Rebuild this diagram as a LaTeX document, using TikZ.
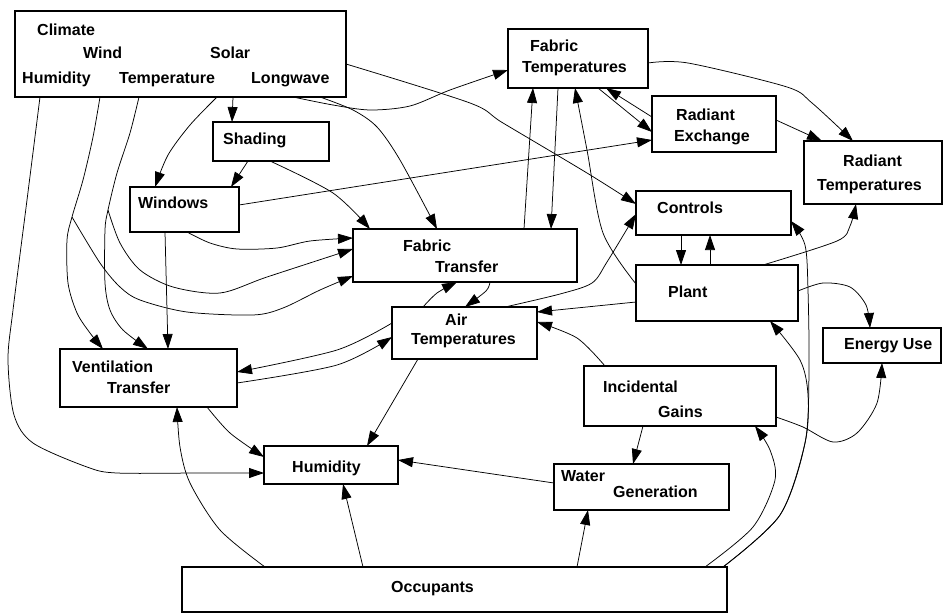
\documentclass[tikz,border=0pt]{standalone}
\usepackage{fontspec}
\setmainfont{Liberation Sans}
\usetikzlibrary{arrows.meta}
\newcommand\mybox[5]{\node[box, minimum width={(#4-(#2))*1pt}, minimum height={(#5-(#3))*1pt}] (#1) at ({(#2+#4)/2},{(#3+#5)/2}) {};}
\begin{document}
\begin{tikzpicture}[x=1pt,y=-1pt,
  box/.style={draw, line width=1.3pt, inner sep=0pt, outer sep=0pt},
  lbl/.style={anchor=base west, inner sep=0pt, font=\fontsize{16}{19}\selectfont\bfseries},
  arr/.style={line width=0.75pt, -{Triangle[length=15pt,width=10pt]}}]
\useasboundingbox[fill=white] (0,0) rectangle (947,613);
% boxes
\mybox{clim}{15}{11}{346}{97}
\mybox{ftemp}{508}{29}{648}{88}
\mybox{radex}{652}{96}{776}{152}
\mybox{radt}{804}{141}{942}{204}
\mybox{ctrl}{636}{191}{791}{235}
\mybox{plant}{636}{265}{798}{321}
\mybox{shad}{213}{122}{329}{161}
\mybox{win}{130}{187}{239}{232}
\mybox{ftr}{353}{229}{577}{282}
\mybox{air}{392}{307}{537}{359}
\mybox{energy}{823}{328}{941}{363}
\mybox{vent}{60}{349}{237}{407}
\mybox{incg}{584}{366}{776}{426}
\mybox{hum}{264}{446}{398}{484}
\mybox{water}{554}{464}{729}{510}
\mybox{occ}{182}{567}{727}{612}
% labels
\node[lbl] (t1) at (37,35) {Climate};
\node[lbl] (t2) at (83,58) {Wind};
\node[lbl] (t3) at (210,58) {Solar};
\node[lbl] (t4) at (22,83) {Humidity};
\node[lbl] (t5) at (119,83) {Temperature};
\node[lbl] (t6) at (251,83) {Longwave};
\node[lbl] (t7) at (530,51) {Fabric};
\node[lbl] (t8) at (522,72) {Temperatures};
\node[lbl] (t9) at (676,120) {Radiant};
\node[lbl] (t10) at (674,141) {Exchange};
\node[lbl] (t11) at (843,166) {Radiant};
\node[lbl] (t12) at (817,190) {Temperatures};
\node[lbl] (t13) at (657,213) {Controls};
\node[lbl] (t14) at (668,297) {Plant};
\node[lbl] (t15) at (223,144) {Shading};
\node[lbl] (t16) at (138,208) {Windows};
\node[lbl] (t17) at (403,251) {Fabric};
\node[lbl] (t18) at (435,272) {Transfer};
\node[lbl] (t19) at (445,325) {Air};
\node[lbl] (t20) at (411,344) {Temperatures};
\node[lbl] (t21) at (844,349) {Energy Use};
\node[lbl] (t22) at (72,372) {Ventilation};
\node[lbl] (t23) at (107,393) {Transfer};
\node[lbl] (t24) at (603,392) {Incidental};
\node[lbl] (t25) at (658,417) {Gains};
\node[lbl] (t26) at (292,472) {Humidity};
\node[lbl] (t27) at (561,481) {Water};
\node[lbl] (t28) at (613,497) {Generation};
\node[lbl] (t29) at (391,592) {Occupants};
% branch points
\coordinate (brA) at (72,217);
\coordinate (brB) at (108,210);
\coordinate (brO) at (805,443);
% connectors from climate
\draw[arr] plot[smooth] coordinates {(clim.south -| 40,0) (27,200) (13,310) (8,360) (14,415) (33,443) (87,467) (117,473) (200,473) (hum.west |- 0,473)};
\draw[arr] plot[smooth] coordinates {(clim.south -| 100,0) (93,137) (83,180) (brA) (67,240) (68,283) (77,313) (90,333) (vent.north -| 103,0)};
\draw[arr] plot[smooth] coordinates {(brA) (100,263) (120,287) (140,300) (187,312) (253,315) (283,308) (320,290) (ftr.west |- 0,276)};
\draw[arr] plot[smooth] coordinates {(clim.south -| 139,0) (130,133) (117,173) (brB) (105,230) (105,283) (110,310) (123,330) (vent.north -| 148,0)};
\draw[arr] plot[smooth] coordinates {(brB) (120,243) (140,270) (173,287) (220,293) (267,277) (ftr.west |- 0,249)};
\draw[arr] plot[smooth] coordinates {(clim.south -| 217,0) (190,125) (168,155) (win.north -| 155,0)};
\draw[arr] (clim.south -| 233,0) -- (shad.north -| 232,0);
\draw[arr] plot[smooth] coordinates {(clim.south -| 293,0) (333,105) (370,110) (410,106) (450,90) (ftemp.west |- 0,70)};
\draw[arr] plot[smooth] coordinates {(clim.south -| 320,0) (353,110) (377,127) (400,160) (ftr.north -| 437,0)};
\draw[arr] plot[smooth] coordinates {(clim.east |- 0,64) (470,103) (503,123) (587,173) (ctrl.west |- 0,204)};
% shading, windows
\draw[arr] (shad.south -| 248,0) -- (win.north -| 231,0);
\draw[arr] plot[smooth] coordinates {(shad.south -| 270,0) (333,193) (ftr.north -| 370,0)};
\draw[arr] (win.south -| 165,0) -- (vent.north -| 168,0);
\draw[arr] plot[smooth] coordinates {(win.south -| 187,0) (210,243) (237,249) (277,248) (310,241) (ftr.west |- 0,238)};
\draw[arr] (win.east |- 0,205) -- (radex.west |- 0,140);
% fabric temperatures
\draw[arr] (ftr.north -| 524,0) -- (ftemp.south -| 533,0);
\draw[arr] (ftemp.south -| 558,0) -- (ftr.north -| 551,0);
\draw[arr] plot[smooth] coordinates {(plant.west |- 0,284) (603,233) (587,150) (ftemp.south -| 575,0)};
\draw[arr] (ftemp.south -| 598,0) -- (radex.west |- 0,132);
\draw[arr] (radex.west |- 0,117) -- (ftemp.south -| 606,0);
\draw[arr] plot[smooth] coordinates {(ftemp.east |- 0,63) (688,63) (787,87) (812,103) (radt.north -| 853,0)};
\draw[arr] (radex.east |- 0,120) -- (radt.north -| 822,0);
% controls, plant
\draw[arr] (ctrl.south -| 681,0) -- (plant.north -| 681,0);
\draw[arr] (plant.north -| 710,0) -- (ctrl.south -| 710,0);
\draw[arr] plot[smooth] coordinates {(occ.north -| 723,0) (780,515) (brO) (809,372) (808,290) (805,245) (ctrl.east |- 0,221)};
\draw[arr] plot[smooth] coordinates {(occ.north -| 723,0) (780,515) (brO) (808,395) (800,360) (plant.south -| 770,0)};
\draw[arr] plot[smooth] coordinates {(plant.east |- 0,291) (823,283) (850,287) (866,305) (energy.north -| 870,0)};
\draw[arr] plot[smooth] coordinates {(plant.north -| 763,0) (837,241) (850,226) (radt.south -| 856,0)};
\draw[arr] (plant.west |- 0,302) -- (air.east |- 0,312);
% air temperatures
\draw[arr] plot[smooth] coordinates {(air.north -| 505,0) (560,294) (592,283) (607,262) (ctrl.west |- 0,214)};
\draw[arr] plot[smooth] coordinates {(air.north -| 423,0) (437,293) (ftr.south -| 457,0)};
\draw[arr] plot[smooth] coordinates {(ftr.south -| 490,0) (486,291) (air.north -| 465,0)};
\draw[arr] plot[smooth] coordinates {(air.west |- 0,323) (337,350) (vent.east |- 0,372)};
\draw[arr] plot[smooth] coordinates {(vent.east |- 0,383) (337,365) (air.west |- 0,337)};
\draw[arr] (air.south -| 418,0) -- (hum.north -| 367,0);
% incidental gains, water
\draw[arr] plot[smooth] coordinates {(incg.north -| 605,0) (577,338) (air.east |- 0,322)};
\draw[arr] (incg.south -| 643,0) -- (water.north -| 633,0);
\draw[arr] plot[smooth] coordinates {(incg.east |- 0,417) (803,427) (833,442) (857,433) (877,403) (energy.south -| 882,0)};
\draw[arr] (water.west |- 0,483) -- (hum.east |- 0,460);
% ventilation, occupants
\draw[arr] plot[smooth] coordinates {(vent.south -| 207,0) (230,433) (hum.west |- 0,457)};
\draw[arr] plot[smooth] coordinates {(occ.north -| 265,0) (220,530) (190,483) (180,447) (vent.south -| 177,0)};
\draw[arr] (occ.north -| 363,0) -- (hum.south -| 343,0);
\draw[arr] (occ.north -| 577,0) -- (water.south -| 588,0);
\draw[arr] plot[smooth] coordinates {(occ.north -| 705,0) (753,527) (775,480) (770,450) (incg.south -| 755,0)};
\end{tikzpicture}
\end{document}
